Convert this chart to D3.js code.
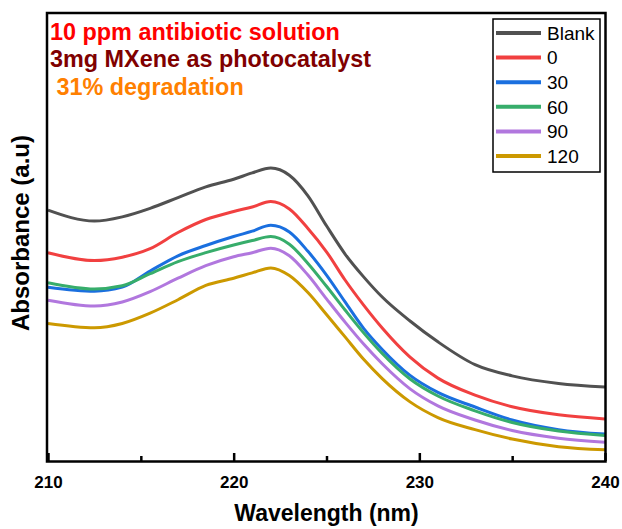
<!DOCTYPE html>
<html>
<head>
<meta charset="utf-8">
<script src="https://cdn.jsdelivr.net/npm/d3@7"></script>
<style>
  html, body { margin: 0; padding: 0; background: #fff; }
  svg { display: block; font-family: "Liberation Sans", Arial, sans-serif; }
</style>
</head>
<body>
<svg id="chart" width="622" height="529"></svg>
<script>
// Wavelengths (nm) at which the spectra are sampled
const wavelengths = [210, 212.5, 214, 215.5, 217, 218.5, 220, 221, 222, 223, 224, 225, 226, 227, 228, 229.5, 231, 233, 235, 237.5, 240];

// Absorbance (a.u.) for each irradiation time
const blank = [0.560, 0.5355, 0.545, 0.564, 0.588, 0.612, 0.629, 0.643, 0.654, 0.638, 0.592, 0.525, 0.462, 0.411, 0.366, 0.3125, 0.266, 0.215, 0.190, 0.173, 0.165];
const t0    = [0.465, 0.4475, 0.455, 0.474, 0.510, 0.539, 0.557, 0.567, 0.579, 0.5625, 0.519, 0.467, 0.404, 0.348, 0.297, 0.232, 0.185, 0.147, 0.121, 0.103, 0.094];
const t30   = [0.388, 0.379, 0.388, 0.424, 0.458, 0.481, 0.501, 0.513, 0.526, 0.511, 0.468, 0.415, 0.355, 0.296, 0.249, 0.191, 0.153, 0.1205, 0.0915, 0.070, 0.060];
const t60   = [0.398, 0.384, 0.391, 0.418, 0.445, 0.465, 0.482, 0.492, 0.501, 0.484, 0.441, 0.390, 0.337, 0.286, 0.240, 0.183, 0.145, 0.112, 0.086, 0.067, 0.057];
const t90   = [0.359, 0.346, 0.355, 0.378, 0.408, 0.436, 0.456, 0.465, 0.475, 0.458, 0.415, 0.362, 0.310, 0.261, 0.217, 0.161, 0.123, 0.0915, 0.068, 0.051, 0.042];
const t120  = [0.307, 0.2975, 0.307, 0.330, 0.360, 0.392, 0.408, 0.420, 0.431, 0.414, 0.376, 0.327, 0.277, 0.227, 0.184, 0.132, 0.097, 0.070, 0.049, 0.032, 0.025];

const seriesNames  = ["Blank", "0", "30", "60", "90", "120"];
const seriesValues = [blank, t0, t30, t60, t90, t120];
const seriesColors = ["#515151", "#F14040", "#1A6FDF", "#37AD6B", "#B177DE", "#CC9900"];

const xTicks = [210, 220, 230, 240];
const xMinorTicks = [215, 225, 235];

const annotations = [
  { text: "10 ppm antibiotic solution", color: "#FF0000" },
  { text: "3mg MXene as photocatalyst", color: "#800000" },
  { text: " 31% degradation", color: "#FF8000" }
];

const svg = d3.select("#chart");
const plot = { left: 48, right: 605, top: 13, bottom: 461 };

const x = d3.scaleLinear().domain([210, 240]).range([plot.left, plot.right]);
const y = d3.scaleLinear().domain([0, 1]).range([plot.bottom, plot.top]);

// Spectra
const line = d3.line()
  .x((d, i) => x(wavelengths[i]))
  .y(d => y(d))
  .curve(d3.curveMonotoneX);

const curves = svg.append("g");
seriesValues.forEach((vals, k) => {
  curves.append("path")
    .datum(vals)
    .attr("d", line)
    .attr("fill", "none")
    .attr("stroke", seriesColors[k])
    .attr("stroke-width", 3)
    .attr("stroke-linejoin", "round");
});

// Bottom axis with inward ticks
const xAxis = d3.axisBottom(x).tickValues(xTicks).tickSize(-8).tickPadding(15).tickFormat(d3.format("d"));
const gx = svg.append("g").attr("transform", `translate(0,${plot.bottom})`).call(xAxis);
gx.select(".domain").remove();
gx.selectAll(".tick line").attr("stroke", "#000").attr("stroke-width", 2.5);
gx.selectAll(".tick text")
  .attr("fill", "#000")
  .style("font-size", "17px")
  .style("font-weight", "bold")
  .style("font-family", "'Liberation Sans', Arial, sans-serif");

const xMinor = d3.axisBottom(x).tickValues(xMinorTicks).tickSize(-5).tickFormat("");
const gxm = svg.append("g").attr("transform", `translate(0,${plot.bottom})`).call(xMinor);
gxm.select(".domain").remove();
gxm.selectAll(".tick line").attr("stroke", "#000").attr("stroke-width", 2.5);

// Frame
svg.append("rect")
  .attr("x", plot.left - 1)
  .attr("y", plot.top)
  .attr("width", plot.right - plot.left + 1.5)
  .attr("height", plot.bottom - plot.top + 0.5)
  .attr("fill", "none")
  .attr("stroke", "#000")
  .attr("stroke-width", 2.5);

// Axis titles
svg.append("text")
  .attr("x", (plot.left + plot.right) / 2)
  .attr("y", 521)
  .attr("text-anchor", "middle")
  .style("font-size", "23px")
  .style("font-weight", "bold")
  .text("Wavelength (nm)");

svg.append("text")
  .attr("transform", "translate(29,233) rotate(-90)")
  .attr("text-anchor", "middle")
  .style("font-size", "24px")
  .style("font-weight", "bold")
  .text("Absorbance (a.u)");

// Annotation lines
const notes = svg.append("g");
annotations.forEach((a, i) => {
  notes.append("text")
    .attr("x", 50)
    .attr("y", 39.5 + i * 27.5)
    .attr("fill", a.color)
    .style("font-size", "23.4px")
    .style("font-weight", "bold")
    .style("white-space", "pre")
    .attr("xml:space", "preserve")
    .text(a.text);
});

// Legend
const legend = svg.append("g");
legend.append("rect")
  .attr("x", 493).attr("y", 19)
  .attr("width", 107).attr("height", 153)
  .attr("fill", "#fff")
  .attr("stroke", "#000")
  .attr("stroke-width", 1.5);

seriesNames.forEach((name, k) => {
  const cy = 33 + k * 24.6;
  legend.append("line")
    .attr("x1", 496).attr("x2", 541)
    .attr("y1", cy).attr("y2", cy)
    .attr("stroke", seriesColors[k])
    .attr("stroke-width", 4);
  legend.append("text")
    .attr("x", 547)
    .attr("y", cy)
    .attr("dy", "0.36em")
    .style("font-size", "19px")
    .text(name);
});
</script>
</body>
</html>
